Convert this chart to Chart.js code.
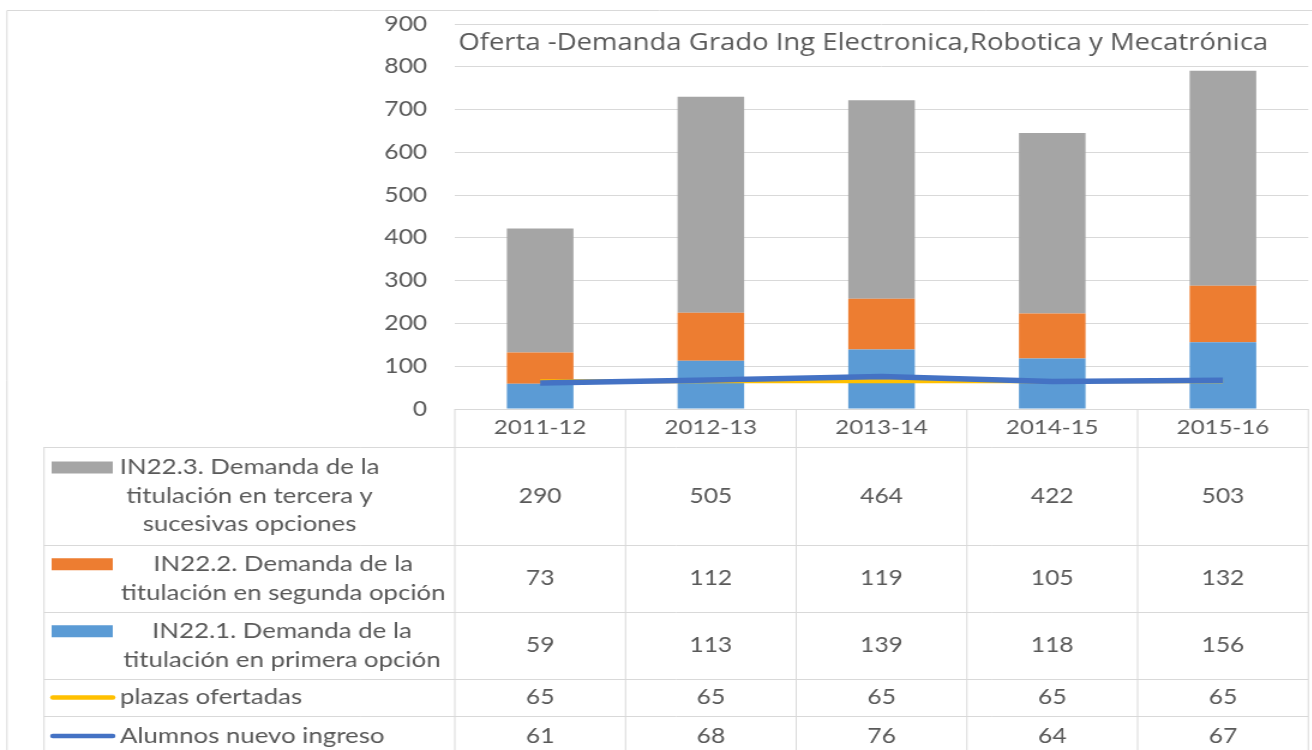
<!DOCTYPE html>
<html>
<head>
<meta charset="utf-8">
<script src="https://cdn.jsdelivr.net/npm/chart.js@4.4.0/dist/chart.umd.min.js"></script>
<style>
    html, body { margin: 0; padding: 0; background: #fff; overflow: hidden; }
    /* the reference is a horizontally stretched Excel export, so stretch the whole chart */
    #wrap { width: 1093px; height: 750px; transform: scaleX(1.2); transform-origin: 0 0; }
</style>
</head>
<body>
<div id="wrap"><canvas id="chart"></canvas></div>
<script>
const categories = ['2011-12', '2012-13', '2013-14', '2014-15', '2015-16'];
const primeraOpcion = [59, 113, 139, 118, 156];
const segundaOpcion = [73, 112, 119, 105, 132];
const terceraOpcion = [290, 505, 464, 422, 503];
const plazasOfertadas = [65, 65, 65, 65, 65];
const alumnosNuevoIngreso = [61, 68, 76, 64, 67];
const yMin = 0, yMax = 900, yStep = 100;
const chartTitle = 'Oferta -Demanda Grado Ing Electronica,Robotica y Mecatrónica';

const TEXT = '#595959';
const BORDER = '#D9D9D9';

/* rows of the data table under the chart */
const tableRows = [
    { label: ['IN22.3. Demanda de la', 'titulación en tercera y', 'sucesivas opciones'], values: terceraOpcion, color: '#A5A5A5', key: 'bar', h: 98, cx: 208 },
    { label: ['IN22.2. Demanda de la', 'titulación en segunda opción'], values: segundaOpcion, color: '#ED7D31', key: 'bar', h: 67, cx: 236 },
    { label: ['IN22.1. Demanda de la', 'titulación en primera opción'], values: primeraOpcion, color: '#5B9BD5', key: 'bar', h: 67, cx: 235 },
    { label: ['plazas ofertadas'], values: plazasOfertadas, color: '#FFC000', key: 'line', h: 37 },
    { label: ['Alumnos nuevo ingreso'], values: alumnosNuevoIngreso, color: '#4472C4', key: 'line', h: 40 }
];
const headerH = 38;

const dataTable = {
    id: 'dataTable',
    afterDraw(chart) {
        const ctx = chart.ctx;
        const area = chart.chartArea;
        const xs = chart.scales.x;
        const W = chart.width, H = chart.height;
        const colW = (area.right - area.left) / categories.length;
        const tableLeft = 36.7;

        ctx.save();
        ctx.strokeStyle = BORDER;
        ctx.lineWidth = 1;

        // outer frame of the chart object
        ctx.beginPath();
        ctx.moveTo(5.8, 10.5); ctx.lineTo(W, 10.5);
        ctx.moveTo(5.8, 10.5); ctx.lineTo(5.8, H);
        ctx.stroke();

        // title
        ctx.fillStyle = TEXT;
        ctx.font = '22.9px "Open Sans"';
        ctx.textAlign = 'left';
        ctx.textBaseline = 'middle';
        ctx.fillText(chartTitle, area.left + 3, area.top + 19);

        // grid of the table
        let y = area.bottom;
        ctx.beginPath();
        ctx.moveTo(area.left, y + 0.5); ctx.lineTo(area.right, y + 0.5);
        y += headerH;
        const rowTops = [];
        tableRows.forEach(r => {
            rowTops.push(y);
            ctx.moveTo(tableLeft, y + 0.5); ctx.lineTo(area.right, y + 0.5);
            y += r.h;
        });
        for (let k = 0; k <= categories.length; k++) {
            const vx = area.left + k * colW;
            ctx.moveTo(vx, area.bottom); ctx.lineTo(vx, H);
        }
        ctx.moveTo(tableLeft, rowTops[0]); ctx.lineTo(tableLeft, H);
        ctx.stroke();

        // header labels
        ctx.font = '20px Lato';
        ctx.textAlign = 'center';
        categories.forEach((c, i) => {
            ctx.fillText(c, xs.getPixelForValue(i), area.bottom + headerH / 2);
        });

        // rows
        tableRows.forEach((r, ri) => {
            const top = rowTops[ri];
            const mid = top + r.h / 2;
            const lineH = 28.5;
            const firstY = mid - (r.label.length - 1) * lineH / 2;

            // legend key
            if (r.key === 'bar') {
                ctx.fillStyle = r.color;
                ctx.fillRect(43, firstY - 6, 51, 12);
            } else {
                ctx.strokeStyle = r.color;
                ctx.lineWidth = 4.5;
                ctx.lineCap = 'round';
                ctx.beginPath();
                ctx.moveTo(44, mid); ctx.lineTo(94, mid);
                ctx.stroke();
            }

            ctx.fillStyle = TEXT;
            ctx.font = '21.5px Lato';
            r.label.forEach((t, li) => {
                if (r.key === 'bar') {
                    ctx.textAlign = 'center';
                    ctx.fillText(t, r.cx, firstY + li * lineH);
                } else {
                    ctx.textAlign = 'left';
                    ctx.fillText(t, 100, mid);
                }
            });

            ctx.font = '20.5px Lato';
            ctx.textAlign = 'center';
            r.values.forEach((v, i) => {
                ctx.fillText(String(v), xs.getPixelForValue(i), mid);
            });
        });
        ctx.restore();
    }
};

new Chart(document.getElementById('chart'), {
    type: 'bar',
    data: {
        labels: categories,
        datasets: [
            { type: 'line', label: 'Alumnos nuevo ingreso', data: alumnosNuevoIngreso, borderColor: '#4472C4', borderWidth: 5.5, pointRadius: 0, tension: 0, stack: 'alumnos', order: 0 },
            { type: 'line', label: 'plazas ofertadas', data: plazasOfertadas, borderColor: '#FFC000', borderWidth: 4, pointRadius: 0, tension: 0, stack: 'plazas', order: 1 },
            { label: 'IN22.1. Demanda de la titulación en primera opción', data: primeraOpcion, backgroundColor: '#5B9BD5', stack: 'demanda', order: 2 },
            { label: 'IN22.2. Demanda de la titulación en segunda opción', data: segundaOpcion, backgroundColor: '#ED7D31', stack: 'demanda', order: 3 },
            { label: 'IN22.3. Demanda de la titulación en tercera y sucesivas opciones', data: terceraOpcion, backgroundColor: '#A5A5A5', stack: 'demanda', order: 4 }
        ]
    },
    options: {
        responsive: true,
        maintainAspectRatio: false,
        animation: false,
        datasets: {
            bar: { barPercentage: 0.39, categoryPercentage: 1 }
        },
        layout: {
            padding: { top: 24, right: 1, bottom: 341, left: 0 }
        },
        scales: {
            x: {
                display: false,
                stacked: true,
                offset: true
            },
            y: {
                stacked: true,
                min: yMin,
                max: yMax,
                border: { display: false },
                grid: { color: BORDER, drawTicks: false },
                ticks: {
                    stepSize: yStep,
                    padding: 23,
                    color: TEXT,
                    font: { family: 'Lato', size: 20.5 }
                },
                afterFit(scale) {
                    scale.width = 379;
                    scale.paddingTop = 0;
                    scale.paddingBottom = 0;
                }
            }
        },
        plugins: {
            legend: { display: false },
            title: { display: false },
            tooltip: { enabled: false }
        }
    },
    plugins: [dataTable]
});
</script>
</body>
</html>
